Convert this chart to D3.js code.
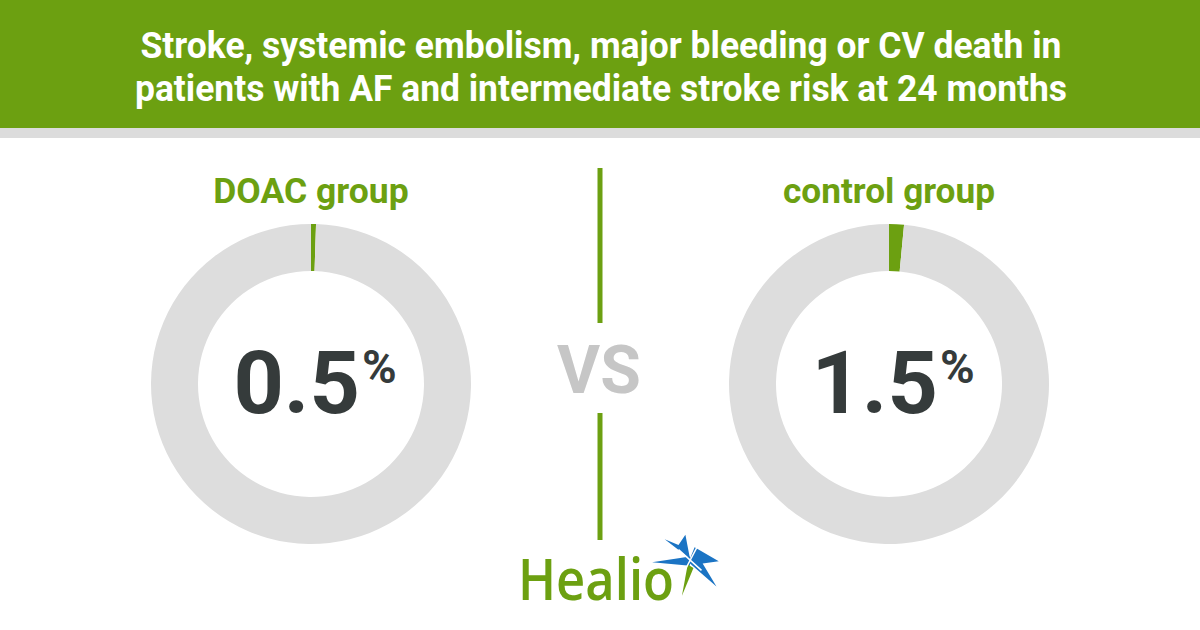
<!DOCTYPE html>
<html><head><meta charset="utf-8">
<script src="https://cdn.jsdelivr.net/npm/d3@7/dist/d3.min.js"></script>
<style>html,body{margin:0;padding:0;background:#fff;}svg{display:block;}</style>
</head><body>
<svg id="chart" width="1200" height="630"></svg>
<script>
const titleLines = ["Stroke, systemic embolism, major bleeding or CV death in",
                    "patients with AF and intermediate stroke risk at 24 months"];
const groups = ["DOAC group", "control group"];
const values = [0.5, 1.5];
const valueLabels = ["0.5", "1.5"];
const brand = "Healio";

const GREEN = "#6ca011", DARK = "#353b3b", RING = "#dddddd", BLUE = "#1b74c4";
const svg = d3.select("#chart");

// header
svg.append("rect").attr("x",0).attr("y",0).attr("width",1200).attr("height",128).attr("fill",GREEN);
svg.append("rect").attr("x",0).attr("y",128).attr("width",1200).attr("height",10).attr("fill","#dcdcdc");
const titleWidths = [921, 932];
const titleBase = [58, 101];
svg.selectAll("text.title").data(titleLines).join("text").attr("class","title")
  .attr("x",601).attr("y",(d,i)=>titleBase[i]).attr("text-anchor","middle")
  .attr("textLength",(d,i)=>titleWidths[i]).attr("lengthAdjust","spacingAndGlyphs")
  .attr("font-family","Roboto").attr("font-weight",700).attr("font-size",37)
  .attr("fill","#fff").text(d=>d);

// layout scale for the two donuts
const x = d3.scalePoint().domain(groups).range([311, 889]);
const cy = 384;
const pie = d3.pie().sort(null).value(d=>d);
const arc = d3.arc().innerRadius(113).outerRadius(160);
const labelSizes = [35.5, 35.2];

groups.forEach((g,i)=>{
  const cx = x(g);
  const gg = svg.append("g").attr("transform",`translate(${cx},${cy})`);
  gg.selectAll("path").data(pie([values[i], 100-values[i]])).join("path")
    .attr("d",arc).attr("fill",(d,j)=>j===0?GREEN:RING);
  svg.append("text").attr("x",cx).attr("y",203).attr("text-anchor","middle")
    .attr("font-family","Roboto").attr("font-weight",700).attr("font-size",labelSizes[i])
    .attr("fill",GREEN).text(g);
  // value label
  const num = svg.append("text").attr("y",413)
    .attr("font-family","Roboto").attr("font-weight",700).attr("font-size",88)
    .attr("fill",DARK).text(valueLabels[i]);
  const pct = svg.append("text").attr("y",383)
    .attr("font-family","Roboto").attr("font-weight",700).attr("font-size",47)
    .attr("fill",DARK).text("%");
  const w1 = num.node().getComputedTextLength();
  const w2 = pct.node().getComputedTextLength();
  const gap = 2;
  const start = cx + 4 - (w1+gap+w2)/2;
  num.attr("x",start);
  pct.attr("x",start+w1+gap);
});

// divider
svg.append("line").attr("x1",600).attr("x2",600).attr("y1",168).attr("y2",323)
  .attr("stroke",GREEN).attr("stroke-width",5);
svg.append("line").attr("x1",600).attr("x2",600).attr("y1",413).attr("y2",540)
  .attr("stroke",GREEN).attr("stroke-width",5);
svg.append("text").attr("x",599).attr("y",393).attr("text-anchor","middle")
  .attr("font-family","Roboto").attr("font-weight",700).attr("font-size",66)
  .attr("fill","#c6c6c6").text("VS");

// logo
svg.append("text").attr("x",518).attr("y",600).attr("textLength",156).attr("lengthAdjust","spacingAndGlyphs")
  .attr("font-family","Open Sans").attr("font-weight",600).attr("font-size",57)
  .attr("fill",GREEN).text(brand);
const star = svg.append("g").attr("transform","translate(690,560) scale(1.15) translate(-690,-560)");
star.append("path").attr("fill",BLUE)
  .attr("d","M668,542 L680,547 L686,538 L690,559 Z");
star.append("path").attr("fill",BLUE)
  .attr("d","M690,557 L657,562 L690,565 Z");
star.append("path").attr("fill",BLUE)
  .attr("d","M690,559 L694,549 L715,561 L701,563 L713,583 L690,563 Z");
star.append("path").attr("fill",GREEN)
  .attr("d","M688,564 L693,567 L683,591 Z");
star.append("path").attr("stroke","#fff").attr("stroke-width",1.3).attr("fill","none")
  .attr("d","M680,551 L700,569 M696,549 L685,570");
</script>
</body></html>
